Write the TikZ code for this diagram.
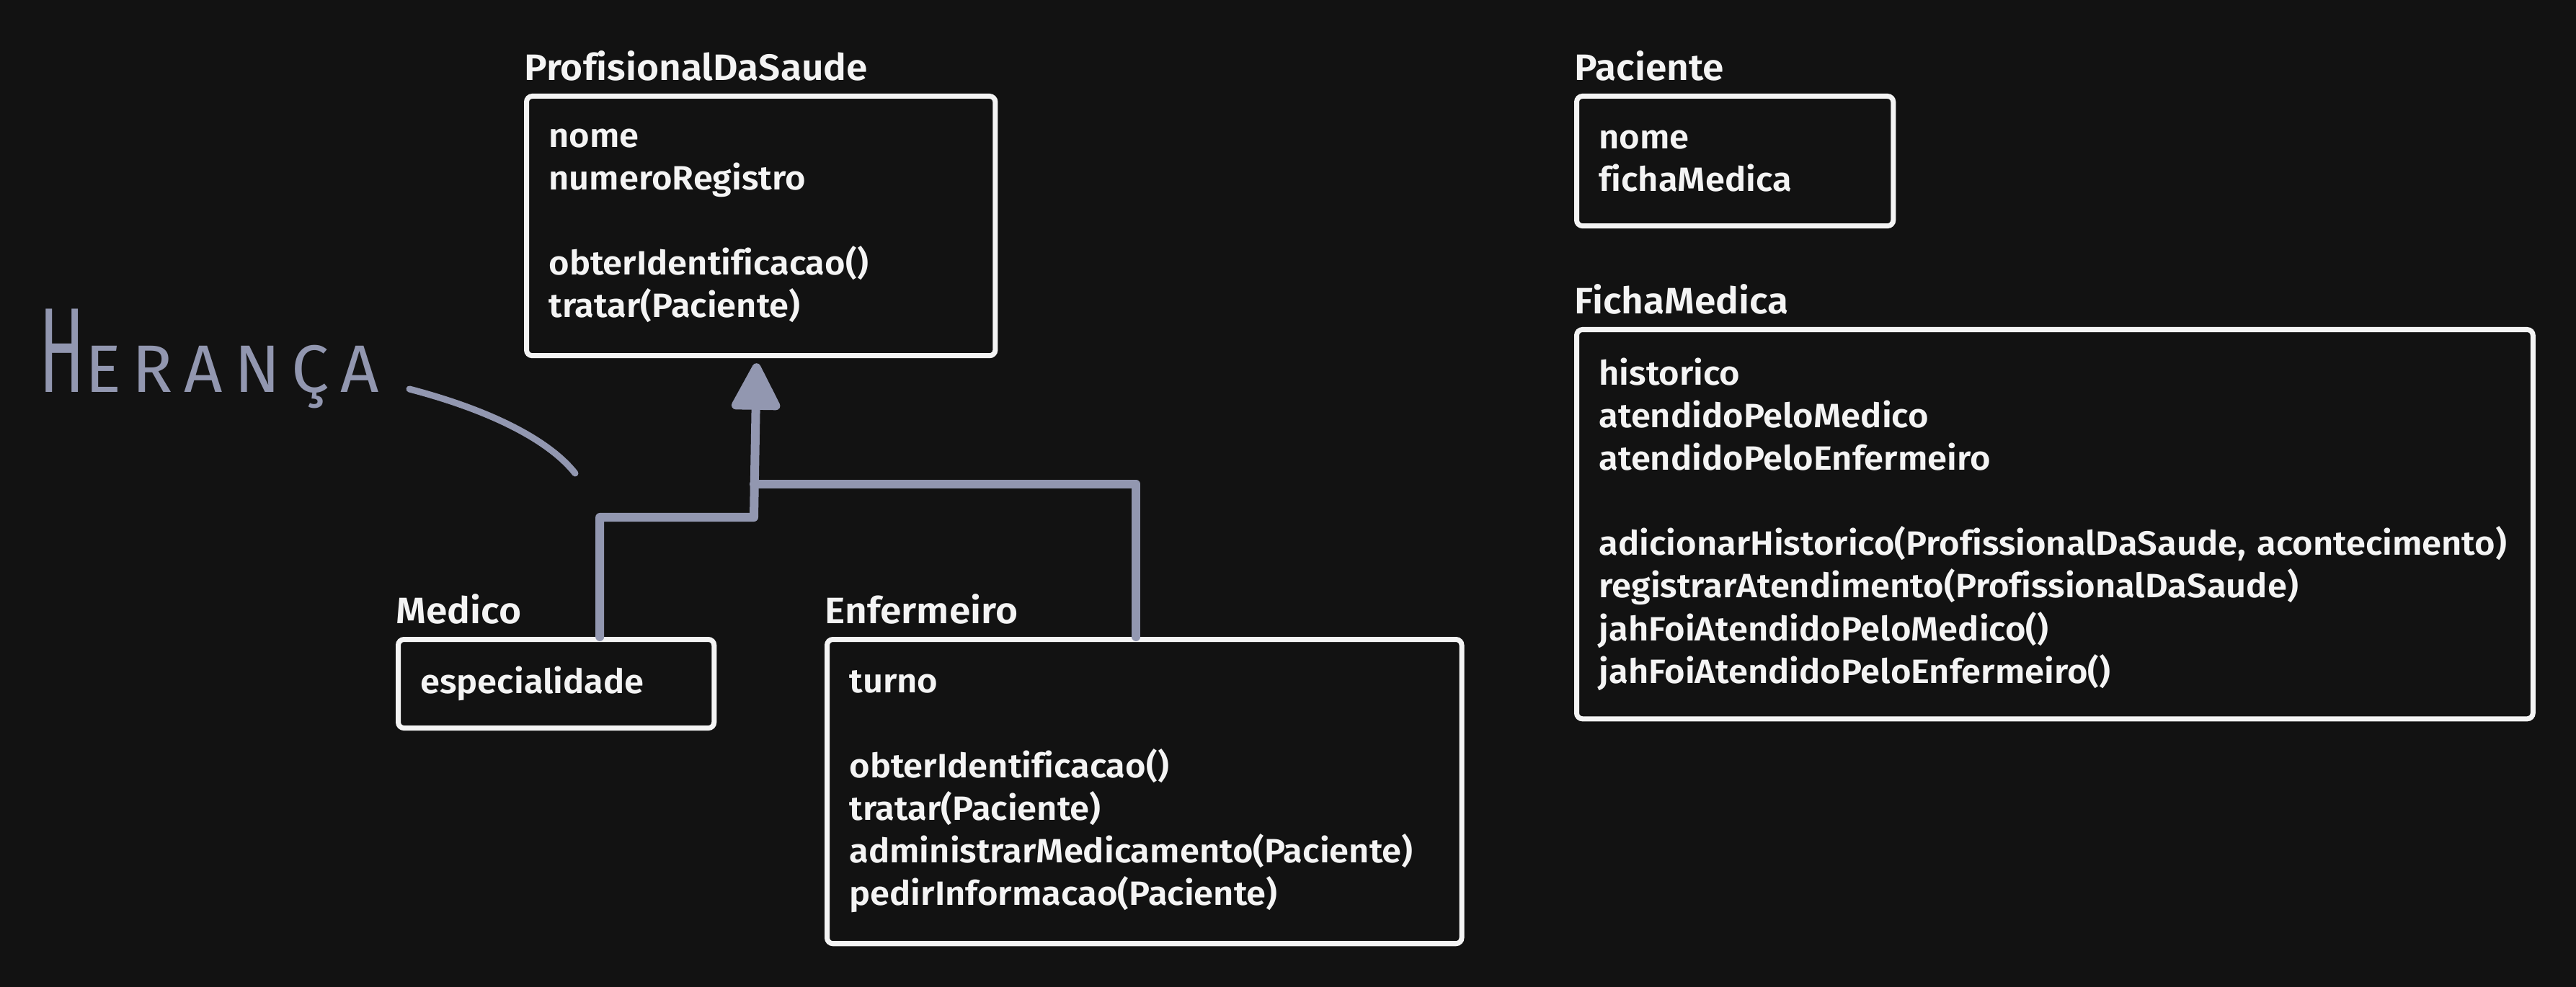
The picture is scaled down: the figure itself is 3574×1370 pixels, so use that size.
\documentclass[tikz,border=0pt]{standalone}
\usepackage{fontspec}
\usepackage{graphicx}
\setmainfont{Fira Sans}[Ligatures=NoCommon, UprightFont={* SemiBold}, FakeStretch=1.045]
\newfontfamily\handfont{Fira Sans}
\usetikzlibrary{arrows.meta,positioning}

\definecolor{bgcol}{HTML}{121212}
\definecolor{inkcol}{HTML}{F4F4F4}
\definecolor{lilac}{HTML}{9297B0}

\tikzset{
  classbox/.style={draw=inkcol, line width=0.07cm, rounded corners=0.08cm, anchor=north west,
    inner xsep=0.31cm, inner ysep=0pt, align=left, text=inkcol,
    font=\fontsize{13.3}{16.8}\selectfont},
  classname/.style={anchor=base west, inner sep=0pt, text=inkcol,
    font=\fontsize{14.5}{16.8}\selectfont},
  inherit/.style={draw=lilac, line width=0.12cm, line join=round, line cap=round},
}

\begin{document}
\begin{tikzpicture}[x=0.01cm, y=-0.01cm]
\fill[bgcol] (0,0) rectangle (3574,1370);
\useasboundingbox (0,0) rectangle (3574,1370);

% classes
\node[classbox, text width=5.88cm, minimum height=3.6cm] (prof) at (727,130)
  {nome\\numeroRegistro\\[16.8pt]obterIdentificacao()\\tratar(Paciente)};
\node[classname] (profT) at ([yshift=0.18cm]prof.north west) {ProfisionalDaSaude};

\node[classbox, text width=3.77cm, minimum height=1.8cm] (paciente) at (2184,130)
  {nome\\fichaMedica};
\node[classname] (pacienteT) at ([yshift=0.18cm]paciente.north west) {Paciente};

\node[classbox, text width=12.64cm, minimum height=5.4cm] (ficha) at (2184,454)
  {historico\\atendidoPeloMedico\\atendidoPeloEnfermeiro\\[16.8pt]%
   adicionarHistorico(ProfissionalDaSaude, acontecimento)\\registrarAtendimento(ProfissionalDaSaude)\\%
   jahFoiAtendidoPeloMedico()\\jahFoiAtendidoPeloEnfermeiro()};
\node[classname] (fichaT) at ([yshift=0.18cm]ficha.north west) {FichaMedica};

\node[classbox, text width=3.76cm, minimum height=1.23cm] (medico) at (549,884)
  {especialidade};
\node[classname] (medicoT) at ([yshift=0.18cm]medico.north west) {Medico};

\node[classbox, text width=8.18cm, minimum height=4.22cm] (enfermeiro) at (1144,884)
  {turno\\[16.8pt]obterIdentificacao()\\tratar(Paciente)\\%
   administrarMedicamento(Paciente)\\pedirInformacao(Paciente)};
\node[classname] (enfermeiroT) at ([yshift=0.18cm]enfermeiro.north west) {Enfermeiro};

% heranca
\coordinate (jM) at (1046,718);
\coordinate (jE) at (1046,672);
\draw[inherit, -{Triangle[length=0.72cm, width=0.72cm, round]}]
  ([xshift=2.83cm]medico.north west) |- (jM) -- ([xshift=-0.06cm,yshift=-0.07cm]prof.south);
\draw[inherit] ([xshift=4.32cm]enfermeiro.north west) |- (jE);

\node[anchor=base west, inner sep=0pt, text=lilac,
  font=\handfont\fontsize{26.5}{28}\selectfont\addfontfeatures{LetterSpace=17}] (heranca) at (54,545)
  {\scalebox{1}[1.8]{H}ERANÇA};
\coordinate (noteA) at (568,540);
\coordinate (noteB) at (798,657);
\draw[lilac, line width=0.09cm, line cap=round] (noteA) .. controls (690,572) and (765,615) .. (noteB);

\end{tikzpicture}
\end{document}
